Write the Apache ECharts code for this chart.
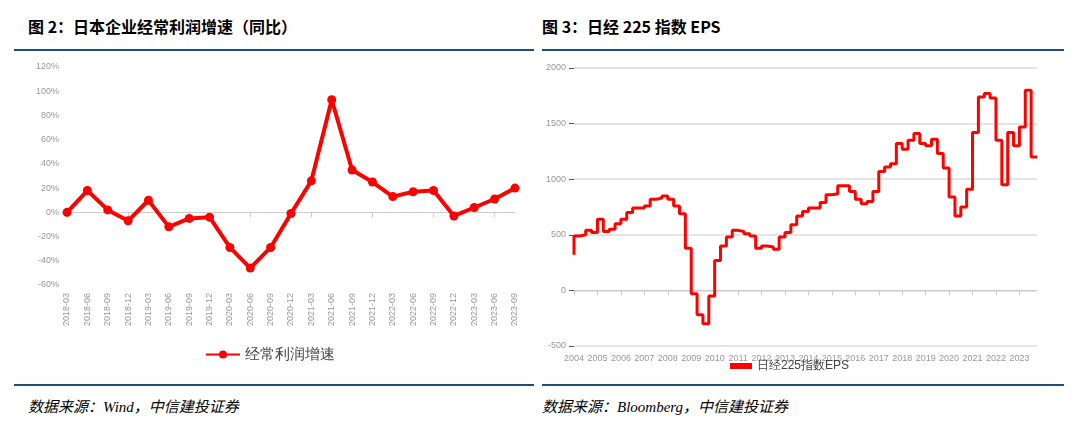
<!DOCTYPE html>
<html lang="zh">
<head>
<meta charset="UTF-8">
<title>图表</title>
<script src="https://cdn.jsdelivr.net/npm/echarts@6/dist/echarts.min.js"></script>
<style>
  body { margin:0; width:1080px; height:427px; background:#fff; position:relative; overflow:hidden;
         font-family:"Noto Sans CJK SC","Liberation Serif",serif; }
  .title { position:absolute; top:14px; font-size:16px; font-weight:bold; color:#000; }
  .rule { position:absolute; height:2px; background:#1f4e79; }
  .src { position:absolute; top:395px; font-size:15px; font-style:italic; color:#000; font-family:"Liberation Serif","Noto Sans CJK SC",serif; }
  .chart { position:absolute; top:50px; height:330px; width:540px; }
</style>
</head>
<body>
<div class="title" style="left:28px">图 2：日本企业经常利润增速（同比）</div>
<div class="title" style="left:542px">图 3：日经 225 指数 EPS</div>
<div class="rule" style="left:14px;width:520px;top:49px"></div>
<div class="rule" style="left:542px;width:522px;top:49px"></div>
<div class="rule" style="left:14px;width:520px;top:384px"></div>
<div class="rule" style="left:542px;width:522px;top:384px"></div>
<div class="src" style="left:28px">数据来源：Wind，中信建投证券</div>
<div class="src" style="left:542px">数据来源：Bloomberg，中信建投证券</div>
<div id="left" class="chart" style="left:0"></div>
<div id="right" class="chart" style="left:540px"></div>
<script type="text/javascript">
// 左图：经常利润增速
var quarters = ['2018-03','2018-06','2018-09','2018-12','2019-03','2019-06','2019-09','2019-12',
  '2020-03','2020-06','2020-09','2020-12','2021-03','2021-06','2021-09','2021-12',
  '2022-03','2022-06','2022-09','2022-12','2023-03','2023-06','2023-09'];
var profitGrowth = [0, 18, 2, -7, 10, -12, -5, -4, -29, -46, -29, -1, 26, 93, 35, 25, 13, 17, 18, -3, 4, 11, 20];

// 右图：日经225 EPS（季度）
var epsYears = [];
var epsValues = [320, 490, 500, 540,
  520, 640, 530, 550,
  600, 640, 700, 740,
  740, 760, 820, 830,
  850, 820, 760, 690,
  380, -30, -220, -300,
  -50, 270, 400, 480,
  540, 530, 510, 490,
  380, 400, 390, 370,
  480, 520, 590, 670,
  710, 740, 740, 790,
  860, 870, 940, 940,
  890, 820, 780, 800,
  890, 1070, 1110, 1140,
  1320, 1270, 1350, 1410,
  1320, 1300, 1360, 1230,
  1100, 840, 670, 750,
  910, 1420, 1740, 1770,
  1730, 1350, 950, 1420,
  1300, 1470, 1800, 1200];
for (var i = 0; i < epsValues.length; i++) epsYears.push(2004 + i * 0.25);

var gray = '#999';

var leftChart = echarts.init(document.getElementById('left'));
leftChart.setOption({
    animation: false,
    grid: { left: 67, right: 25, top: 17, height: 218 },
    legend: {
        top: 292, left: 'center', itemWidth: 34, itemHeight: 10,
        textStyle: { fontSize: 15, color: '#444' },
        data: ['经常利润增速']
    },
    xAxis: [{
        type: 'category', data: quarters, boundaryGap: false,
        axisLine: { show: false, onZero: false },
        axisTick: { show: false },
        axisLabel: { rotate: 90, color: gray, fontSize: 9, interval: 0 }
    }, {
        type: 'category', data: quarters, boundaryGap: false, position: 'bottom',
        axisLine: { onZero: true, lineStyle: { color: '#ccc' } },
        axisTick: { show: true, lineStyle: { color: '#ccc' } },
        axisLabel: { show: false }
    }],
    yAxis: {
        type: 'value', min: -60, max: 120, interval: 20,
        axisLabel: { formatter: '{value}%', color: gray, fontSize: 9 },
        splitLine: { show: false }, axisLine: { show: false }
    },
    series: [{
        name: '经常利润增速', type: 'line', data: profitGrowth,
        symbol: 'circle', symbolSize: 9,
        lineStyle: { color: '#ff0000', width: 4 },
        itemStyle: { color: '#ff0000' }
    }]
});

var rightChart = echarts.init(document.getElementById('right'));
var epsData = epsYears.map(function (y, i) { return [y, epsValues[i]]; });
rightChart.setOption({
    animation: false,
    grid: { left: 34, right: 43, top: 18, height: 278 },
    legend: {
        top: 305, left: 185, itemWidth: 22, itemHeight: 6, icon: 'rect',
        textStyle: { fontSize: 12, color: '#444' },
        data: ['日经225指数EPS']
    },
    xAxis: {
        type: 'value', min: 2004, max: 2023.75, interval: 1,
        axisLine: { onZero: true, lineStyle: { color: '#ccc' } },
        axisTick: { show: true, lineStyle: { color: '#ccc' } },
        axisLabel: { color: gray, fontSize: 9, showMaxLabel: false,
            formatter: function (v) { return String(v); } },
        splitLine: { show: false }
    },
    yAxis: {
        type: 'value', min: -500, max: 2000, interval: 500,
        axisLabel: { color: gray, fontSize: 9, formatter: function (v) { return String(v); } },
        splitLine: { lineStyle: { color: '#ddd', width: 1.5 } },
        axisLine: { show: false }
    },
    series: [{
        name: '日经225指数EPS', type: 'line', step: 'start', data: epsData,
        showSymbol: false, symbol: 'none',
        lineStyle: { color: '#ff0000', width: 3 },
        itemStyle: { color: '#ff0000' }
    }]
});
</script>
</body>
</html>
